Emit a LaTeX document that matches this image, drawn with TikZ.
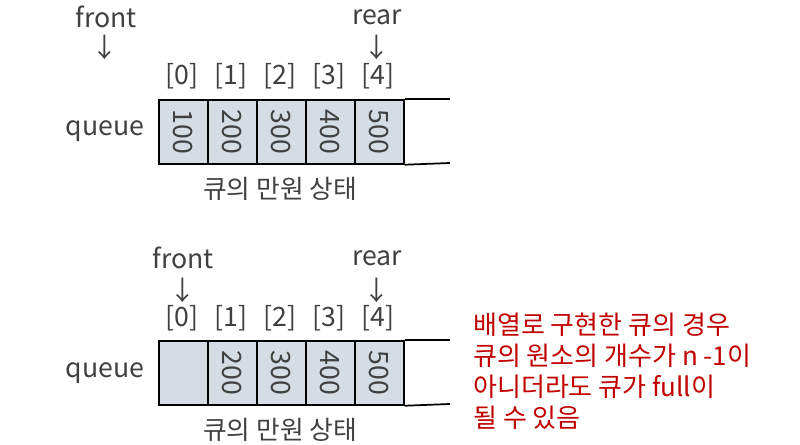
\documentclass[tikz,border=0pt]{standalone}
\usepackage{fontspec}
\setmainfont{Noto Sans CJK KR}
\definecolor{txt}{HTML}{404040}
\definecolor{cellfill}{HTML}{D6DCE4}
\definecolor{redtxt}{HTML}{C00000}
\begin{document}
\begin{tikzpicture}[x=0.75pt,y=-0.75pt,
  lat/.style={text=txt,font=\fontsize{20}{22}\selectfont,inner sep=0pt},
  kor/.style={text=txt,font=\fontsize{19.3}{22}\selectfont,inner sep=0pt},
  cellbox/.style={draw=black,line width=1.3pt,fill=cellfill,minimum width=36.75pt,minimum height=48pt,inner sep=0pt,anchor=north west},
  num/.style={text=txt,font=\fontsize{20}{22}\selectfont,rotate=-90,inner sep=0pt},
  edge/.style={draw=black,line width=1.3pt}]
\useasboundingbox (0,0) rectangle (800,445);
% ---------- top ----------
\node[lat] (f1) at (106,17) {front};
\node[lat] (fa1) at (105,47) {↓};
\node[lat] (r1) at (377,17) {rear};
\node[lat] (ra1) at (377,47) {↓};
\foreach \i in {0,...,4}{
  \node[lat] (ia\i) at (182+49*\i,76) {[\i]};
}
\foreach \i/\v in {0/100,1/200,2/300,3/400,4/500}{
  \node[cellbox] (a\i) at (158+49*\i,99) {};
  \node[num] (na\i) at (a\i.center) {\v};
}
\coordinate (at) at (450,99);
\coordinate (ab) at (450,163);
\draw[edge] (a4.north east) -- (at);
\draw[edge] (a4.south east) -- (ab);
\node[lat] (q1) at (105,131) {queue};
\node[kor] (c1) at (280,189) {큐의 만원 상태};
% ---------- bottom ----------
\node[lat] (f2) at (183,258) {front};
\node[lat] (fa2) at (183,290) {↓};
\node[lat] (r2) at (377,258) {rear};
\node[lat] (ra2) at (377,290) {↓};
\foreach \i in {0,...,4}{
  \node[lat] (ib\i) at (182+49*\i,318) {[\i]};
}
\node[cellbox] (b0) at (158,340) {};
\foreach \i/\v in {1/200,2/300,3/400,4/500}{
  \node[cellbox] (b\i) at (158+49*\i,340) {};
  \node[num] (nb\i) at (b\i.center) {\v};
}
\coordinate (bt) at (450,340);
\coordinate (bb) at (450,404);
\draw[edge] (b4.north east) -- (bt);
\draw[edge] (b4.south east) -- (bb);
\node[lat] (q2) at (105,373) {queue};
\node[kor] (c2) at (280,430) {큐의 만원 상태};
% ---------- note ----------
\node[text=redtxt,font=\fontsize{19.5}{23.2}\selectfont,align=left,anchor=north west,inner sep=0pt] (note) at (473,313)
  {배열로 구현한 큐의 경우\\큐의 원소의 개수가 n -1이\\아니더라도 큐가 full이\\될 수 있음};
\end{tikzpicture}
\end{document}
